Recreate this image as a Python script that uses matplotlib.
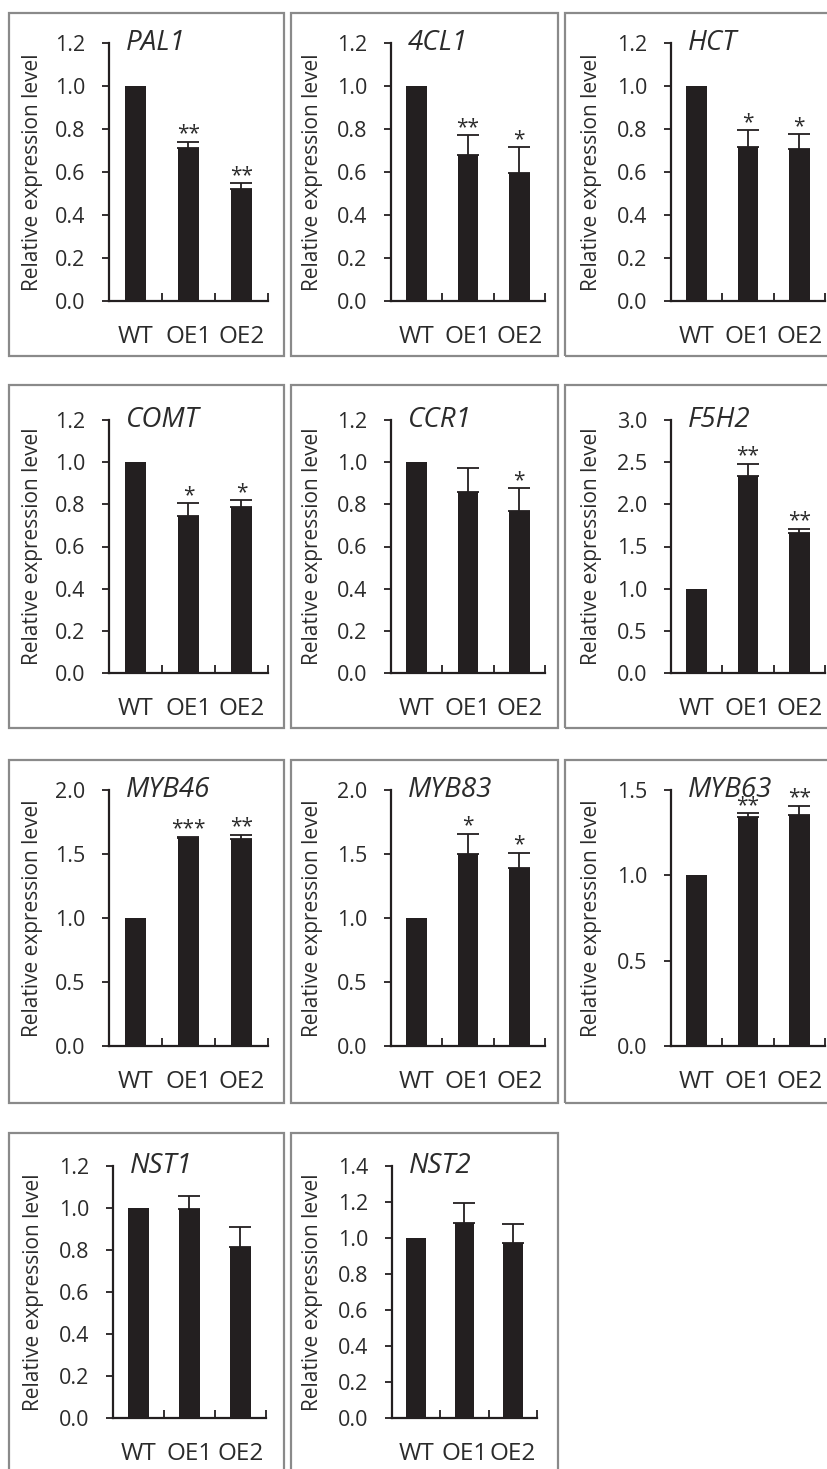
import matplotlib
matplotlib.use("Agg")
import matplotlib.pyplot as plt
from matplotlib.patches import Rectangle
from matplotlib.ticker import FixedLocator

plt.rcParams['font.family'] = ['Open Sans', 'DejaVu Sans']

categories = ['WT', 'OE1', 'OE2']

genes = ['PAL1', '4CL1', 'HCT', 'COMT', 'CCR1', 'F5H2',
         'MYB46', 'MYB83', 'MYB63', 'NST1', 'NST2']

pal1_mean = [1.0, 0.71, 0.52]
pal1_err = [0.0, 0.03, 0.028]
pal1_sig = ['', '**', '**']

cl4_mean = [1.0, 0.68, 0.595]
cl4_err = [0.0, 0.09, 0.12]
cl4_sig = ['', '**', '*']

hct_mean = [1.0, 0.715, 0.705]
hct_err = [0.0, 0.08, 0.07]
hct_sig = ['', '*', '*']

comt_mean = [1.0, 0.745, 0.785]
comt_err = [0.0, 0.06, 0.035]
comt_sig = ['', '*', '*']

ccr1_mean = [1.0, 0.857, 0.77]
ccr1_err = [0.0, 0.115, 0.107]
ccr1_sig = ['', '', '*']

f5h2_mean = [1.0, 2.34, 1.66]
f5h2_err = [0.0, 0.14, 0.05]
f5h2_sig = ['', '**', '**']

myb46_mean = [1.0, 1.625, 1.615]
myb46_err = [0.0, 0.01, 0.035]
myb46_sig = ['', '***', '**']

myb83_mean = [1.0, 1.50, 1.393]
myb83_err = [0.0, 0.16, 0.117]
myb83_sig = ['', '*', '*']

myb63_mean = [1.0, 1.339, 1.355]
myb63_err = [0.0, 0.026, 0.052]
myb63_sig = ['', '**', '**']

nst1_mean = [1.0, 0.995, 0.812]
nst1_err = [0.0, 0.06, 0.097]
nst1_sig = ['', '', '']

nst2_mean = [1.0, 1.082, 0.971]
nst2_err = [0.0, 0.114, 0.107]
nst2_sig = ['', '', '']

means = [pal1_mean, cl4_mean, hct_mean, comt_mean, ccr1_mean, f5h2_mean,
         myb46_mean, myb83_mean, myb63_mean, nst1_mean, nst2_mean]
errs = [pal1_err, cl4_err, hct_err, comt_err, ccr1_err, f5h2_err,
        myb46_err, myb83_err, myb63_err, nst1_err, nst2_err]
sigs = [pal1_sig, cl4_sig, hct_sig, comt_sig, ccr1_sig, f5h2_sig,
        myb46_sig, myb83_sig, myb63_sig, nst1_sig, nst2_sig]
ymax = [1.2, 1.2, 1.2, 1.2, 1.2, 3.0, 2.0, 2.0, 1.5, 1.2, 1.4]
ystep = [0.2, 0.2, 0.2, 0.2, 0.2, 0.5, 0.5, 0.5, 0.5, 0.2, 0.2]

W, H = 828, 1469
fig = plt.figure(figsize=(W / 100, H / 100), dpi=100)

col_l = [109, 391, 671]
col_r = [268, 545, 825]
row_t = [43, 420, 790, 1166]
row_b = [301, 673, 1046, 1418]
box_x = [(9, 284), (291, 558), (565, 845)]
box_y = [(13, 356), (385, 728), (760, 1103), (1133, 1490)]
ylab_x = [33, 313, 592]
# bottom row axes are placed slightly differently
last_l = [113, 392]
last_r = [266, 537]
last_ylab = [34, 313]

BAR = '#231f20'
TXT = '#2b2b2b'

for i, gene in enumerate(genes):
    r, c = divmod(i, 3)
    bx0, bx1 = box_x[c]
    by0, by1 = box_y[r]
    fig.patches.append(Rectangle((bx0 / W, 1 - by1 / H), (bx1 - bx0) / W, (by1 - by0) / H,
                                 transform=fig.transFigure, fill=False,
                                 edgecolor='#8a8a8a', linewidth=1.6, zorder=0))
    if r == 3:
        l, rr, yl = last_l[c], last_r[c], last_ylab[c]
    else:
        l, rr, yl = col_l[c], col_r[c], ylab_x[c]
    t, b = row_t[r], row_b[r]
    ax = fig.add_axes([l / W, 1 - b / H, (rr - l) / W, (b - t) / H])
    x = list(range(len(categories)))
    ax.bar(x, means[i], width=0.4, color=BAR, zorder=2)
    ex = [k for k in x if errs[i][k] > 0]
    ax.errorbar(ex, [means[i][k] for k in ex],
                yerr=[[0] * len(ex), [errs[i][k] for k in ex]],
                fmt='none', ecolor=BAR, elinewidth=1.3, capsize=8, capthick=1.3, zorder=3)
    for k in x:
        if sigs[i][k]:
            ax.annotate(sigs[i][k], xy=(k, means[i][k] + errs[i][k]), xytext=(0, -2),
                        textcoords='offset points', ha='center', va='bottom',
                        fontsize=15, color=TXT, zorder=4)
    ax.set_xlim(-0.5, 2.5)
    ax.set_ylim(0, ymax[i])
    n = int(round(ymax[i] / ystep[i]))
    yt = [round(k * ystep[i], 2) for k in range(n + 1)]
    ax.set_yticks(yt)
    ax.set_yticklabels([f'{v:.1f}' for v in yt], fontsize=15.5, color=TXT)
    ax.tick_params(axis='y', direction='out', length=5, width=1.3, pad=12, colors=BAR,
                   labelcolor=TXT)
    ax.set_xticks(x)
    ax.set_xticklabels(categories, fontsize=17.5, color=TXT)
    ax.xaxis.set_minor_locator(FixedLocator([0.5, 1.5, 2.5]))
    ax.tick_params(axis='x', which='major', length=0, pad=17)
    ax.tick_params(axis='x', which='minor', direction='in', length=6, width=1.3, colors=BAR)
    for s in ['top', 'right']:
        ax.spines[s].set_visible(False)
    for s in ['left', 'bottom']:
        ax.spines[s].set_linewidth(1.6)
        ax.spines[s].set_color(BAR)
    ax.set_facecolor('none')
    ax.annotate(gene, xy=(0, 1), xycoords='axes fraction', xytext=(12, 0),
                textcoords='offset points', ha='left', va='center',
                fontsize=20, style='italic', color=TXT)
    fig.text(yl / W, 1 - ((t + b) / 2) / H, 'Relative expression level',
             rotation=90, ha='center', va='center', fontsize=15, color=TXT)

fig.savefig('out.png', dpi=100, facecolor='white')
